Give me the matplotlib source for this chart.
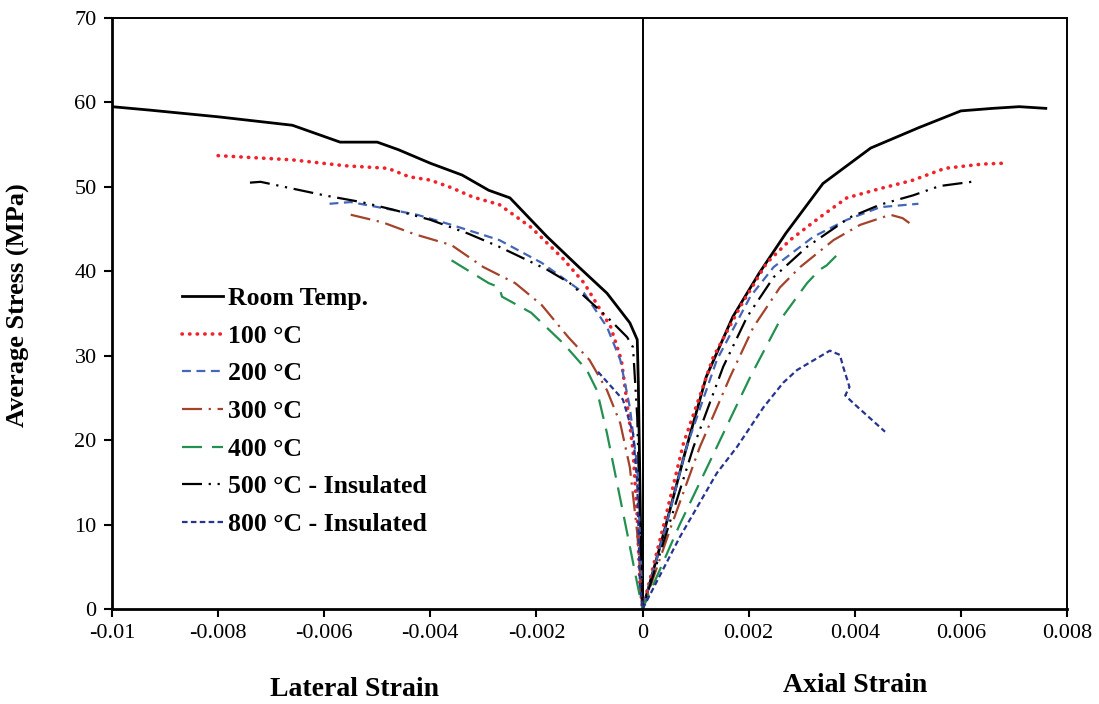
import numpy as np
import matplotlib.pyplot as plt

plt.rcParams['font.family'] = ['Liberation Serif', 'DejaVu Serif']

# lateral strain (negative side), listed from outer end towards the origin
rt_lat_x = [-0.0100, -0.0093, -0.0080, -0.0066, -0.0057, -0.0050, -0.0046, -0.0040, -0.0034, -0.0029,
            -0.0025, -0.0018, -0.0012, -0.00067, -0.00024, -0.0001, -0.00008, -0.00005, -0.00002, 0.0]
rt_lat_y = [59.5, 59.1, 58.3, 57.3, 55.3, 55.3, 54.4, 52.8, 51.4, 49.6,
            48.7, 44.1, 40.5, 37.4, 33.9, 31.9, 26.8, 14.9, 3.0, 0.0]
rt_ax_x = [0.0, 0.0004, 0.0008, 0.0012, 0.0017, 0.0022, 0.0027, 0.0034, 0.0043, 0.0052,
           0.0060, 0.0066, 0.0071, 0.0076]
rt_ax_y = [0.0, 9.0, 18.5, 27.5, 34.6, 39.8, 44.5, 50.4, 54.6, 57.0,
           59.0, 59.3, 59.5, 59.3]

t100_lat_x = [-0.0080, -0.0066, -0.0056, -0.0048, -0.0044, -0.0040, -0.0036, -0.0032, -0.0027, -0.0021,
              -0.0015, -0.0011, -0.0006, -0.0004, -0.0003, -0.00018, -0.0001, -0.00005, 0.0]
t100_lat_y = [53.7, 53.2, 52.5, 52.2, 51.2, 50.8, 49.9, 48.8, 47.9, 45.2,
              41.5, 38.6, 33.4, 29.5, 24.8, 18.8, 10.9, 3.0, 0.0]
t100_ax_x = [0.0, 0.0004, 0.00077, 0.00133, 0.00184, 0.00234, 0.00278, 0.00334, 0.00385, 0.00448,
             0.0051, 0.0057, 0.0064, 0.0068]
t100_ax_y = [0.0, 10.0, 19.6, 29.8, 35.8, 41.0, 43.7, 46.4, 48.7, 49.8,
             50.8, 52.2, 52.7, 52.8]

t200_lat_x = [-0.0059, -0.0055, -0.0049, -0.00425, -0.0036, -0.0030, -0.0027, -0.0019, -0.0011, -0.00067,
              -0.00042, -0.00024, -0.0001, -0.00004, 0.0]
t200_lat_y = [48.0, 48.2, 47.5, 46.7, 45.5, 44.3, 43.7, 41.0, 37.4, 33.4,
              29.5, 23.9, 16.8, 7.0, 0.0]
t200_ax_x = [0.0, 0.00045, 0.00083, 0.0014, 0.00203, 0.00247, 0.00322, 0.00385, 0.00448, 0.0052]
t200_ax_y = [0.0, 10.0, 19.2, 29.5, 37.0, 40.5, 44.1, 46.1, 47.6, 48.0]

t300_lat_x = [-0.0055, -0.0049, -0.0043, -0.0036, -0.0030, -0.0024, -0.0019, -0.0014, -0.0010, -0.00067,
              -0.00042, -0.00024, -0.0001, 0.0]
t300_lat_y = [46.7, 45.8, 44.4, 43.1, 40.5, 38.6, 36.0, 32.2, 29.5, 25.9,
              22.0, 16.8, 9.0, 0.0]
t300_ax_x = [0.0, 0.00055, 0.00108, 0.00165, 0.00209, 0.00259, 0.00297, 0.0036, 0.0041, 0.00467,
             0.0049, 0.0051]
t300_ax_y = [0.0, 10.0, 19.2, 27.5, 33.4, 38.1, 40.5, 43.7, 45.5, 46.7,
             46.3, 45.4]

t400_lat_x = [-0.0036, -0.0029, -0.0027, -0.00265, -0.0021, -0.0015, -0.00105, -0.00086, -0.00067, -0.00048,
              -0.00029, -0.0001, 0.0]
t400_lat_y = [41.3, 38.6, 38.1, 37.0, 35.1, 31.5, 28.3, 25.9, 20.8, 14.9,
              9.0, 3.0, 0.0]
t400_ax_x = [0.0, 0.0007, 0.0014, 0.00203, 0.00259, 0.0031, 0.00334, 0.00347, 0.00366]
t400_ax_y = [0.0, 10.0, 19.2, 27.5, 34.2, 38.6, 40.2, 40.7, 41.9]

t500_lat_x = [-0.0074, -0.0072, -0.0060, -0.0053, -0.0047, -0.0040, -0.0033, -0.0027, -0.0018, -0.00137,
              -0.00067, -0.00029, -0.00018, -0.0001, -0.00005, 0.0]
t500_lat_y = [50.5, 50.6, 49.0, 48.2, 47.3, 46.1, 44.5, 42.9, 40.2, 38.6,
              34.6, 32.2, 31.0, 22.7, 10.9, 0.0]
t500_ax_x = [0.0, 0.0005, 0.00096, 0.00152, 0.00197, 0.00247, 0.0031, 0.00391, 0.00448, 0.0051,
             0.0056, 0.0062]
t500_ax_y = [0.0, 10.0, 19.2, 28.7, 34.6, 39.3, 42.9, 46.4, 47.9, 49.0,
             50.1, 50.6]

t800_lat_x = [-0.00084, -0.00037, -0.00018, -0.0001, -0.00005, 0.0]
t800_lat_y = [28.1, 24.8, 20.8, 14.9, 3.0, 0.0]
t800_ax_x = [0.0, 0.0007, 0.0014, 0.00178, 0.00228, 0.00265, 0.00291, 0.00353, 0.00372, 0.00378,
             0.0039, 0.00382, 0.00397, 0.00457]
t800_ax_y = [0.0, 8.5, 16.1, 19.2, 23.9, 26.8, 28.3, 30.6, 30.1, 28.7,
             26.3, 25.3, 24.4, 21.0]

labels = ['Room Temp.', '100 °C', '200 °C', '300 °C', '400 °C',
          '500 °C - Insulated', '800 °C - Insulated']
xs = [(rt_lat_x, rt_ax_x), (t100_lat_x, t100_ax_x), (t200_lat_x, t200_ax_x), (t300_lat_x, t300_ax_x),
      (t400_lat_x, t400_ax_x), (t500_lat_x, t500_ax_x), (t800_lat_x, t800_ax_x)]
ys = [(rt_lat_y, rt_ax_y), (t100_lat_y, t100_ax_y), (t200_lat_y, t200_ax_y), (t300_lat_y, t300_ax_y),
      (t400_lat_y, t400_ax_y), (t500_lat_y, t500_ax_y), (t800_lat_y, t800_ax_y)]

styles = [
    dict(color='black', lw=2.0, ls='-'),
    dict(color='#f0232a', lw=2.6, ls=(0, (0.1, 2.0)), dash_capstyle='round'),
    dict(color='#4466b8', lw=1.6, ls=(0, (4, 2.5))),
    dict(color='#a3432b', lw=1.6, ls=(0, (9, 3, 1, 3))),
    dict(color='#239050', lw=1.6, ls=(0, (9, 4.5))),
    dict(color='black', lw=1.6, ls=(0, (9, 3, 1, 3, 1, 3))),
    dict(color='#27348f', lw=1.6, ls=(0, (2.5, 1.5))),
]

fig = plt.figure(figsize=(10.99, 7.04), dpi=100)
ax = fig.add_axes([0.1019, 0.1349, 0.869, 0.8395])

for (lx, axx), (ly, ayy), st, lab in zip(xs, ys, styles, labels):
    x = np.concatenate([lx, axx])
    y = np.concatenate([ly, ayy])
    ax.plot(x, y, label=lab, **st)

ax.axvline(0, color='black', lw=1.4, zorder=0)

ax.set_xlim(-0.01, 0.008)
ax.set_ylim(0, 70)
ax.set_xticks(np.arange(-0.01, 0.0081, 0.002))
ax.set_xticklabels(['-0.01', '-0.008', '-0.006', '-0.004', '-0.002', '0',
                    '0.002', '0.004', '0.006', '0.008'])
ax.set_yticks(np.arange(0, 71, 10))
ax.tick_params(direction='out', length=6, width=1.5, labelsize=16, pad=5)
ax.tick_params(top=False, right=False)
for s in ['left', 'bottom']:
    ax.spines[s].set_linewidth(2.0)
for s in ['top', 'right']:
    ax.spines[s].set_linewidth(1.4)

ax.set_ylabel('Average Stress (MPa)', fontsize=19, fontweight='bold')
ax.yaxis.set_label_coords(-0.086, 0.514)
fig.text(0.323, 0.020, 'Lateral Strain', fontsize=20, fontweight='bold', ha='center', va='center')
fig.text(0.778, 0.026, 'Axial Strain', fontsize=20, fontweight='bold', ha='center', va='center')

leg = ax.legend(loc='upper left', bbox_to_anchor=(0.0625, 0.562), frameon=False,
                prop=dict(size=18.5, weight='bold'), handlelength=1.6, handletextpad=0.2,
                labelspacing=0.57, borderaxespad=0)

plt.savefig('out.png', dpi=100)
